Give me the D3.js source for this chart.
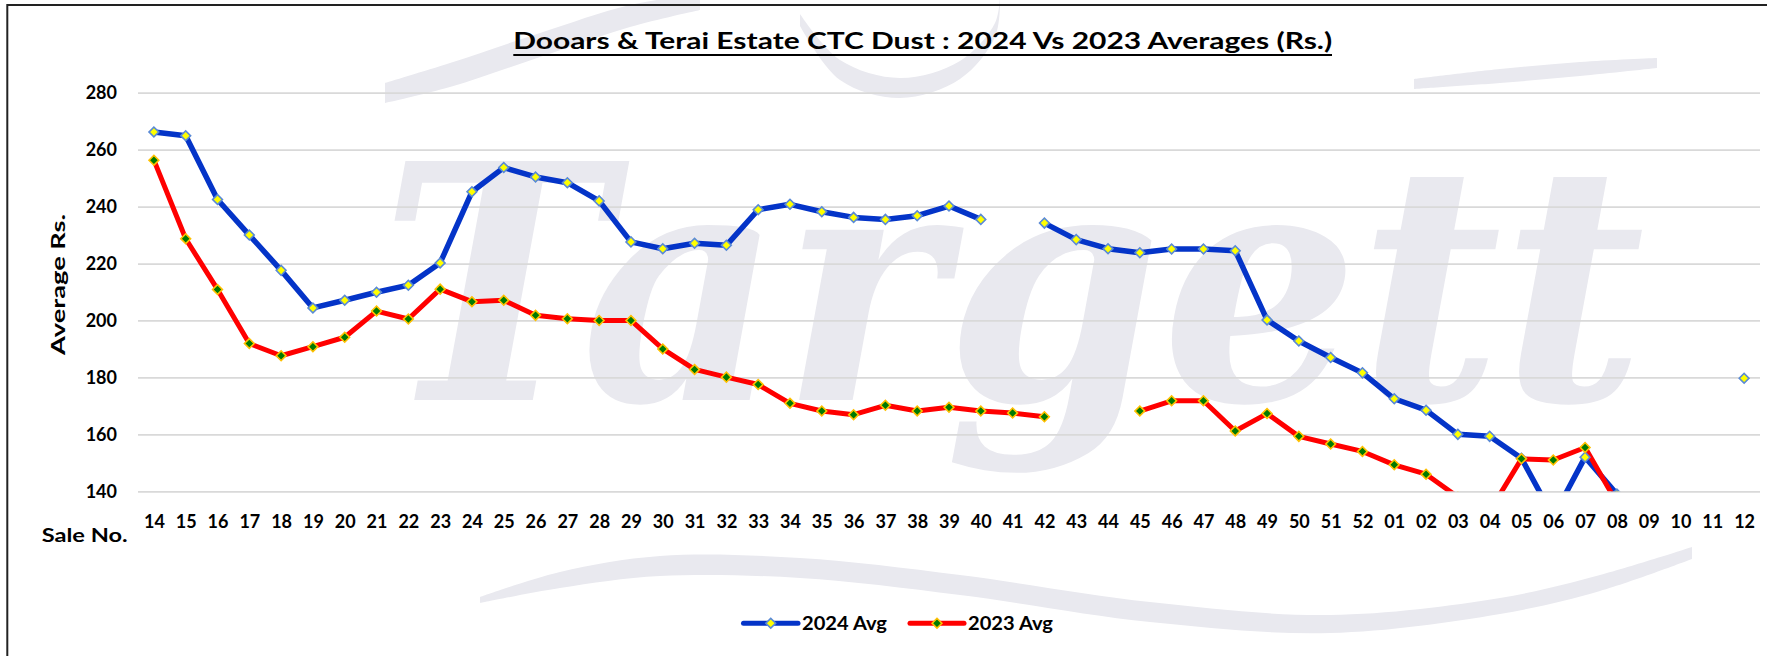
<!DOCTYPE html>
<html><head><meta charset="utf-8">
<script src="https://cdn.jsdelivr.net/npm/d3@7"></script>
<style>
html,body{margin:0;padding:0;background:#fff;}
svg{display:block;}
text{font-family:Lato,"Open Sans",sans-serif;font-weight:700;fill:#000;}
</style></head><body>
<svg id="chart" width="1767" height="656"></svg>
<script>
const categories = ["14","15","16","17","18","19","20","21","22","23","24","25","26","27","28","29","30","31","32","33","34","35","36","37","38","39","40","41","42","43","44","45","46","47","48","49","50","51","52","01","02","03","04","05","06","07","08","09","10","11","12"];
const avg2024 = [266.2,264.9,242.5,230.0,217.6,204.4,207.1,209.9,212.4,220.2,245.2,253.7,250.4,248.4,242.0,227.6,225.2,227.1,226.4,238.9,240.8,238.2,236.2,235.5,236.8,240.2,235.5,null,234.2,228.4,225.2,223.8,225.1,225.1,224.5,200.2,192.8,187.0,181.6,172.5,168.5,160.0,159.3,151.6,131.0,152.0,139.0,null,null,null,179.7];
const avg2023 = [256.3,228.7,210.9,191.9,187.6,190.8,194.1,203.3,200.5,211.0,206.6,207.1,201.8,200.6,200.0,200.0,190.0,182.8,180.1,177.5,170.9,168.2,166.9,170.2,168.2,169.5,168.2,167.5,166.2,null,null,168.2,171.8,171.8,161.2,167.3,159.3,156.6,154.0,149.3,146.0,138.0,133.0,151.4,151.0,155.4,136.0,null,null,null,null];
const yTicks = [140,160,180,200,220,240,260,280];
const seriesNames = ["2024 Avg","2023 Avg"];
const titleText = "Dooars & Terai Estate CTC Dust : 2024 Vs 2023 Averages (Rs.)";
const yAxisTitle = "Average Rs.";
const xAxisTitle = "Sale No.";

const svg = d3.select("#chart");
const plot = {left:138, right:1760, top:92.7, bottom:491.3};
const x = d3.scalePoint().domain(categories).range([plot.left, plot.right]).padding(0.5);
const y = d3.scaleLinear().domain([140,280]).range([plot.bottom, plot.top]);

// ---- watermark (decorative) ----
const wm = svg.append("g").attr("fill","#e9e9ef");
function band(pts){
  const top = pts.map(p=>[p[0],p[1]-p[2]]);
  const bot = pts.map(p=>[p[0],p[1]+p[2]]).reverse();
  const ln = d3.line().curve(d3.curveCatmullRom);
  return ln(top) + "L" + ln(bot).slice(1) + "Z";
}
wm.append("path").attr("d", band([[480,600,3],[560,580,8],[660,566,10],[800,568,10],[960,585,10],[1150,612,10],[1330,624,9],[1500,606,8],[1600,583,8],[1692,553,6]]));
wm.append("path").attr("d", band([[385,93,10],[450,75,12],[540,45,12],[630,16,11],[700,2,8]]));
wm.append("path").attr("d", band([[1414,84,5],[1500,76,7],[1580,69,7],[1657,63,5]]));
wm.append("path").attr("d", band([[800,20,6],[840,70,10],[900,88,10],[960,70,9],[995,30,7],[1000,0,5]]));
wm.append("text").attr("x",380).attr("y",400)
  .attr("textLength",1265).attr("lengthAdjust","spacingAndGlyphs")
  .style("font-family","'DejaVu Serif','Liberation Serif',serif")
  .style("font-style","italic").style("font-weight","700")
  .style("font-size","328px").style("fill","#e9e9ef")
  .text("Targett");

// ---- frame (left & top visible) ----
svg.append("rect").attr("x",7.3).attr("y",5).attr("width",1800).attr("height",700)
  .attr("fill","none").attr("stroke","#222").attr("stroke-width",2);

// ---- title ----
svg.append("text").attr("x",922.7).attr("y",49.3).attr("text-anchor","middle")
  .attr("textLength",819).attr("lengthAdjust","spacingAndGlyphs")
  .style("font-size","22px").text(titleText);
svg.append("line").attr("x1",513.3).attr("x2",1332).attr("y1",55).attr("y2",55)
  .attr("stroke","#000").attr("stroke-width",1.8);

// ---- y axis with gridlines ----
const yAxis = svg.append("g").attr("transform",`translate(${plot.left},0)`)
  .call(d3.axisLeft(y).tickValues(yTicks).tickSize(-(plot.right-plot.left)).tickPadding(21).tickFormat(d3.format("d")));
yAxis.select(".domain").remove();
yAxis.selectAll(".tick line").attr("stroke","#d9d9d9").attr("stroke-width",1.8);
yAxis.selectAll(".tick text").style("font-size","18px").style("font-family","Lato,sans-serif").style("font-weight","700").attr("fill","#000");

// ---- x axis labels ----
const xAxis = svg.append("g").attr("transform",`translate(0,${plot.bottom})`)
  .call(d3.axisBottom(x).tickSize(0).tickPadding(24));
xAxis.select(".domain").remove();
xAxis.selectAll(".tick text").style("font-size","18px").style("font-family","Lato,sans-serif").style("font-weight","700").attr("fill","#000");

// axis titles
svg.append("text").attr("transform","translate(65,284.5) rotate(-90)").attr("text-anchor","middle")
  .attr("textLength",141).attr("lengthAdjust","spacingAndGlyphs")
  .style("font-size","18px").text(yAxisTitle);
svg.append("text").attr("x",41.7).attr("y",541.7)
  .attr("textLength",86).attr("lengthAdjust","spacingAndGlyphs")
  .style("font-size","18px").text(xAxisTitle);

// ---- series ----
svg.append("defs").append("clipPath").attr("id","plotclip")
  .append("rect").attr("x",plot.left-20).attr("y",0).attr("width",plot.right-plot.left+40).attr("height",plot.bottom);

const series = [
  {name:seriesNames[0], values:avg2024, line:"#0434c8", width:5.5, mfill:"#ffff00", mstroke:"#5a8ad6"},
  {name:seriesNames[1], values:avg2023, line:"#ff0000", width:5, mfill:"#007a00", mstroke:"#ffc000"}
];
const g = svg.append("g").attr("clip-path","url(#plotclip)");
const lineGen = d3.line().defined(d=>d.v!==null).x(d=>x(d.c)).y(d=>y(d.v));
series.forEach(s=>{
  const data = categories.map((c,i)=>({c, v:s.values[i]}));
  g.append("path").datum(data).attr("d",lineGen).attr("fill","none")
    .attr("stroke",s.line).attr("stroke-width",s.width)
    .attr("stroke-linejoin","round").attr("stroke-linecap","round");
});
const sym = d3.symbol().type(d3.symbolSquare).size(48);
series.forEach(s=>{
  const data = categories.map((c,i)=>({c, v:s.values[i]})).filter(d=>d.v!==null);
  g.selectAll(null).data(data).enter().append("path")
    .attr("d",sym).attr("transform",d=>`translate(${x(d.c)},${y(d.v)}) rotate(45)`)
    .attr("fill",s.mfill).attr("stroke",s.mstroke).attr("stroke-width",1.6);
});

// ---- legend ----
const legendItems = [
  {s:series[0], x1:743.5, x2:798, tx:802},
  {s:series[1], x1:910, x2:964, tx:968}
];
const lg = svg.append("g");
legendItems.forEach(it=>{
  lg.append("line").attr("x1",it.x1).attr("x2",it.x2).attr("y1",623.3).attr("y2",623.3)
    .attr("stroke",it.s.line).attr("stroke-width",5).attr("stroke-linecap","round");
  lg.append("path").attr("d",sym).attr("transform",`translate(${(it.x1+it.x2)/2},623.3) rotate(45)`)
    .attr("fill",it.s.mfill).attr("stroke",it.s.mstroke).attr("stroke-width",1.6);
  lg.append("text").attr("x",it.tx).attr("y",630).attr("textLength",85).attr("lengthAdjust","spacingAndGlyphs")
    .style("font-size","19px").text(it.s.name);
});
</script>
</body></html>
